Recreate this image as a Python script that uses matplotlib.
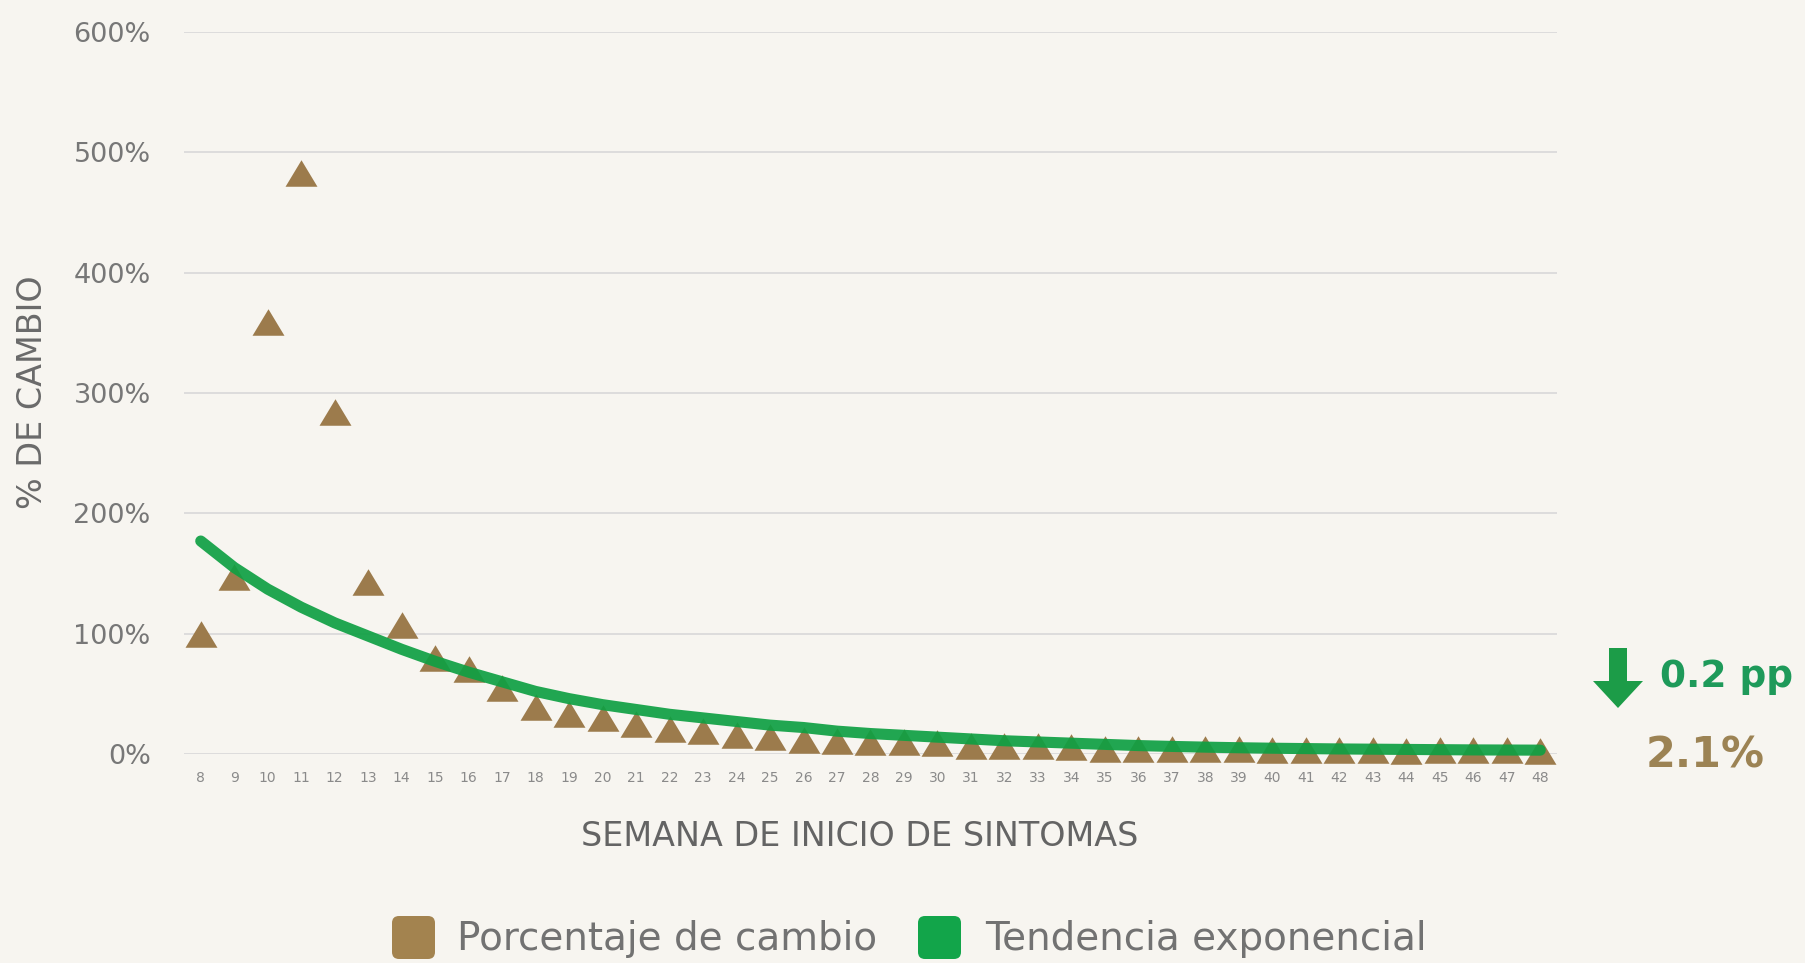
import matplotlib
matplotlib.use('Agg')
import matplotlib.pyplot as plt
from matplotlib.patches import FancyBboxPatch, Polygon
from matplotlib.ticker import FuncFormatter

# Semana de inicio de sintomas
semanas = list(range(8, 49))

# Porcentaje de cambio
cambio = [100, 147, 359, 483, 284, 143, 107, 80, 71, 55,
          39, 33, 30, 25, 21, 19, 16, 14, 12, 11,
          10, 10, 9, 7, 7, 7, 6, 4.5, 4.5, 4,
          4, 4, 3, 3, 3, 3, 2.5, 3, 3, 3, 2.1]

# Tendencia exponencial
tendencia = [177, 155, 137, 122, 109, 98, 87, 77, 68, 60,
             52, 46, 41, 37, 33, 30, 27, 24, 22, 19,
             17, 15.5, 14, 12.5, 11, 10, 9, 8, 7, 6.3,
             5.7, 5.2, 4.8, 4.5, 4.2, 4.0, 3.8, 3.6, 3.4, 3.3, 3.2]

yticks = [0, 100, 200, 300, 400, 500, 600]
variacion = '0.2 pp'
ultimo = '2.1%'

BROWN = '#9C7B4C'
GREEN = '#0FA043'
GRAY = '#727272'

W, H = 1806, 963
fig = plt.figure(figsize=(W / 100, H / 100), dpi=100, facecolor='#F7F5F0')

ax = fig.add_axes([184 / W, (H - 754) / H, (1557 - 184) / W, (754 - 32) / H])
ax.set_facecolor('none')

tri = [(-1, -0.83), (1, -0.83), (0, 0.83)]
ax.plot(semanas, cambio, linestyle='none', marker=tri, markersize=23,
        color=BROWN, markeredgewidth=0, zorder=3, clip_on=False)
ax.plot(semanas, tendencia, color=GREEN, lw=8, alpha=0.92,
        solid_capstyle='round', zorder=4, clip_on=False)

ax.set_xlim(7.5, 48.5)
ax.set_ylim(0, 600)
ax.set_yticks(yticks)
ax.yaxis.set_major_formatter(FuncFormatter(lambda v, p: f'{int(v)}%'))
ax.set_xticks(semanas)
ax.set_xticklabels([str(s) for s in semanas])
ax.tick_params(axis='y', length=0, pad=24, labelsize=19.5, labelcolor='#777777')
ax.tick_params(axis='x', length=0, pad=12, labelsize=10, labelcolor='#8A8A8A')
ax.grid(axis='y', color='#D8D8D8', lw=1.2)
ax.set_axisbelow(True)
for s in ax.spines.values():
    s.set_visible(False)

fig.text(860 / W, 1 - 836 / H, 'SEMANA DE INICIO DE SINTOMAS', ha='center',
         va='center', fontsize=24, color='#646464')
fig.text(33 / W, 1 - 392 / H, '% DE CAMBIO', rotation=90, ha='center',
         va='center', fontsize=24, color='#6A6A6A')

# capa en pixeles para leyenda y anotacion
ov = fig.add_axes([0, 0, 1, 1], zorder=5)
ov.set_xlim(0, W)
ov.set_ylim(H, 0)
ov.axis('off')
ov.patch.set_alpha(0)

ov.add_patch(Polygon([(1609, 648), (1627, 648), (1627, 681), (1643, 681),
                      (1618, 708), (1593, 681), (1609, 681)],
                     closed=True, color='#1C9C48', lw=0))
ov.text(1660, 677, variacion, ha='left', va='center', fontsize=27,
        fontweight='bold', color='#1E9A5A')
ov.text(1705, 755, ultimo, ha='center', va='center', fontsize=31,
        fontweight='bold', color='#9C8354')

for x0, col, txt, tx in [(392, '#A3834F', 'Porcentaje de cambio', 457),
                         (918, '#12A54A', 'Tendencia exponencial', 985)]:
    ov.add_patch(FancyBboxPatch((x0, 916), 43, 43,
                                boxstyle='round,pad=0,rounding_size=7',
                                color=col, lw=0))
    ov.text(tx, 939, txt, ha='left', va='center', fontsize=28, color=GRAY)

fig.savefig('out.png', dpi=100, facecolor=fig.get_facecolor())
